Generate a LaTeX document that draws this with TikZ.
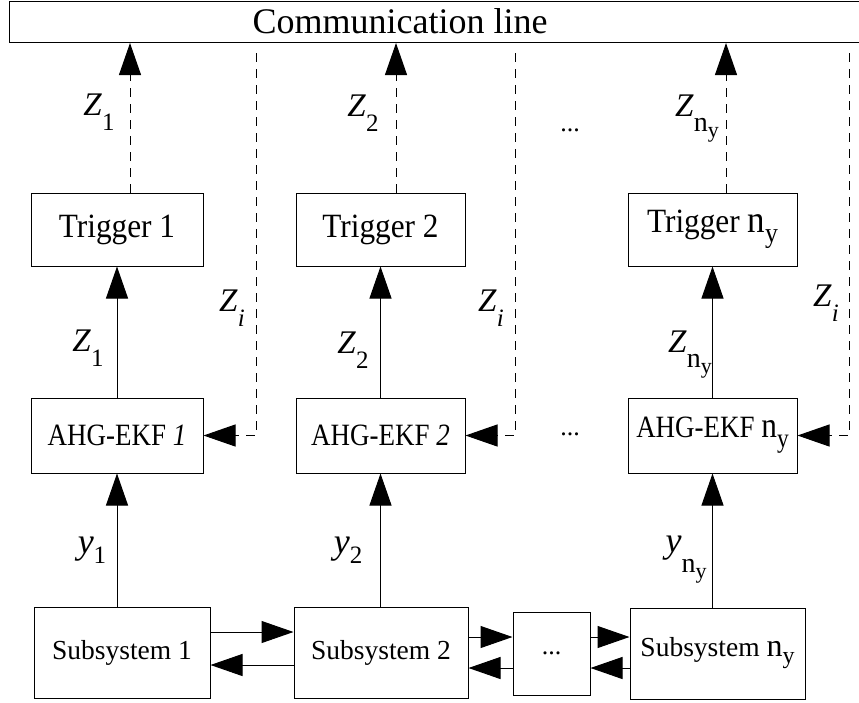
\documentclass[tikz,border=0pt]{standalone}
\usepackage{fontspec}
\setmainfont{Liberation Serif}
\newfontfamily\trigf[FakeStretch=0.92]{Liberation Serif}
\newfontfamily\ahgf[FakeStretch=0.87]{Liberation Serif}
\usetikzlibrary{arrows.meta,calc}
% main letter, subscript, subscript size, drop
\newcommand\mlab[4]{\textit{#1}\raisebox{-#4}{\fontsize{#3}{#3}\selectfont #2}}
\newcommand\nsub[3]{{\fontsize{#1}{#1}\selectfont n}\raisebox{-#3}{\fontsize{#2}{#2}\selectfont y}}
\begin{document}
\begin{tikzpicture}[x=1pt,y=-1pt,
  >={Triangle[length=32pt,width=22pt]},
  line width=1pt,
  blk/.style={draw, line width=1pt, inner sep=0pt},
  trig/.style={blk, minimum height=73pt, font=\trigf\fontsize{34}{36}\selectfont},
  ahg/.style={blk, minimum height=75pt, font=\ahgf\fontsize{31}{33}\selectfont},
  subs/.style={blk, minimum height=91pt, font=\fontsize{27.5}{30}\selectfont},
  zlab/.style={inner sep=0pt, font=\fontsize{33}{36}\selectfont},
  ylab/.style={inner sep=0pt, font=\fontsize{36}{38}\selectfont},
  dotlab/.style={inner sep=0pt, font=\fontsize{26}{28}\selectfont},
  dsh/.style={dash pattern=on 9pt off 7pt}]
\useasboundingbox (0,0) rectangle (859,702);
\fill[white] (0,0) rectangle (859,702);

% communication line
\node[blk, anchor=north west, minimum width=880pt, minimum height=41pt] (comm) at (9,1) {};
\node[inner sep=0pt, font=\fontsize{36}{40}\selectfont] (commtxt) at (400,21) {Communication line};

% triggers
\node[trig, minimum width=172pt] (T1) at (117,229.5) {Trigger 1};
\node[trig, minimum width=169pt] (T2) at (380.5,229.5) {Trigger 2};
\node[trig, minimum width=169pt] (T3) at (712.5,229.5) {Trigger \nsub{38}{28}{10pt}};

% AHG-EKF
\node[ahg, minimum width=172pt] (A1) at (117,435.5) {AHG-EKF \textit{1}};
\node[ahg, minimum width=169pt] (A2) at (380.5,435.5) {AHG-EKF \textit{2}};
\node[ahg, minimum width=169pt] (A3) at (712.5,435.5) {AHG-EKF \nsub{36}{27}{10pt}};

% subsystems
\node[subs, minimum width=176pt] (S1) at (122,652.5) {Subsystem 1};
\node[subs, minimum width=174pt] (S2) at (381,652.5) {Subsystem 2};
\node[blk, minimum width=77pt, minimum height=83pt, font=\fontsize{26}{28}\selectfont] (D) at (551.5,653.5) {...};
\node[subs, minimum width=175pt] (S3) at (717.5,653.5) {Subsystem \nsub{32}{24}{7pt}};

% labels
\node[zlab] (z1u) at (99,112) {\mlab{Z}{1}{25}{15pt}};
\node[zlab] (z2u) at (363,113) {\mlab{Z}{2}{25}{15pt}};
\node[zlab] (z3u) at (697,119) {\mlab{Z}{\nsub{28}{22}{6pt}}{28}{15pt}};
\node[zlab] (zi1) at (232,308) {\mlab{Z}{\textit{i}}{25}{15pt}};
\node[zlab] (zi2) at (491,308) {\mlab{Z}{\textit{i}}{25}{15pt}};
\node[zlab] (zi3) at (826,303) {\mlab{Z}{\textit{i}}{25}{15pt}};
\node[zlab] (z1l) at (88,348) {\mlab{Z}{1}{25}{15pt}};
\node[zlab] (z2l) at (353,350) {\mlab{Z}{2}{25}{15pt}};
\node[zlab] (z3l) at (690,355) {\mlab{Z}{\nsub{28}{22}{6pt}}{28}{15pt}};
\node[ylab] (y1) at (92,550) {\mlab{y}{1}{25}{10pt}};
\node[ylab] (y2) at (348,550) {\mlab{y}{2}{25}{10pt}};
\node[ylab] (y3) at (686,560) {\mlab{y}{\nsub{28}{22}{6pt}}{28}{20pt}};
\node[dotlab] (dd1) at (570,130) {...};
\node[dotlab] (dd2) at (570,434) {...};

% solid vertical arrows
\draw[->] (A1.north) -- (T1.south);
\draw[->] (A2.north) -- (T2.south);
\draw[->] (A3.north) -- (T3.south);
\draw[->] (A1.south |- S1.north) -- (A1.south);
\draw[->] (A2.south |- S2.north) -- (A2.south);
\draw[->] (A3.south |- S3.north) -- (A3.south);

% dashed arrows to communication line
\coordinate (u1) at ([xshift=13pt]T1.north);
\coordinate (u2) at ([xshift=15.5pt]T2.north);
\coordinate (u3) at ([xshift=13.5pt]T3.north);
\draw[->, dsh] (u1) -- (u1 |- comm.south);
\draw[->, dsh] (u2) -- (u2 |- comm.south);
\draw[->, dsh] (u3) -- (u3 |- comm.south);

% dashed Z_i feedback
\coordinate (f1) at (256,53);
\coordinate (f2) at (515,53);
\coordinate (f3) at (849,53);
\draw[->, dsh] (f1) |- (A1.east);
\draw[->, dsh] (f2) |- (A2.east);
\draw[->, dsh] (f3) |- (A3.east);

% horizontal subsystem arrows
\coordinate (r1) at (0,632);
\coordinate (r2) at (0,665);
\coordinate (r3) at (0,637);
\coordinate (r4) at (0,668);
\draw[->] (S1.east |- r1) -- (S2.west |- r1);
\draw[->] (S2.west |- r2) -- (S1.east |- r2);
\draw[->] (S2.east |- r3) -- (D.west |- r3);
\draw[->] (D.west |- r4) -- (S2.east |- r4);
\draw[->] (D.east |- r3) -- (S3.west |- r3);
\draw[->] (S3.west |- r4) -- (D.east |- r4);
\end{tikzpicture}
\end{document}
